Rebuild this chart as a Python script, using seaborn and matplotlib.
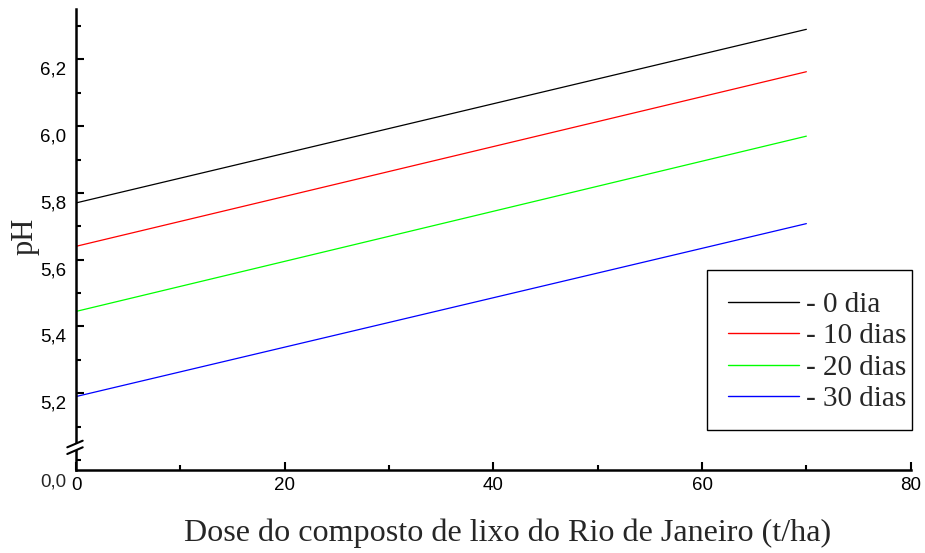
import matplotlib
matplotlib.use("Agg")
import matplotlib.pyplot as plt
import matplotlib.transforms as mtransforms
from matplotlib.lines import Line2D
from matplotlib.patches import Rectangle, Polygon
import seaborn as sns
import pandas as pd

# ---- data ----
dose = [0, 70]
ph_0 = [5.770, 6.290]
ph_10 = [5.640, 6.163]
ph_20 = [5.445, 5.970]
ph_30 = [5.190, 5.708]
series_labels = ["- 0 dia", "- 10 dias", "- 20 dias", "- 30 dias"]
series_colors = ["#000000", "#FF0000", "#00FF00", "#0000FF"]
y_major = [5.2, 5.4, 5.6, 5.8, 6.0, 6.2]
y_major_labels = ["5,2", "5,4", "5,6", "5,8", "6,0", "6,2"]
y_minor = [5.0, 5.1, 5.3, 5.5, 5.7, 5.9, 6.1, 6.3]
x_major = [0, 20, 40, 60, 80]
x_minor = [10, 30, 50, 70]
y_bottom_label = "0,0"

rows = []
for lab, vals in zip(series_labels, [ph_0, ph_10, ph_20, ph_30]):
    for d, v in zip(dose, vals):
        rows.append({"dose": d, "pH": v, "serie": lab})
df = pd.DataFrame(rows)

sns.set_style("ticks")
plt.rcParams["font.family"] = ["Liberation Sans", "DejaVu Sans"]

W, H = 925, 553
fig = plt.figure(figsize=(W / 100, H / 100), dpi=100)
ax_l, ax_r, ax_b, ax_t = 76, 910.7, 470, 9.3
ax = fig.add_axes([ax_l / W, 1 - ax_b / H, (ax_r - ax_l) / W, (ax_b - ax_t) / H])

sns.lineplot(data=df, x="dose", y="pH", hue="serie", hue_order=series_labels,
             palette=dict(zip(series_labels, series_colors)), linewidth=0.9,
             ax=ax, legend=True)

TICK_FS = 13.5
ax.set_xlim(0, 80)
ax.set_ylim(4.97, 6.35)
ax.set_xticks(x_major)
ax.set_xticks(x_minor, minor=True)
ax.set_xticklabels([str(v) for v in x_major], fontsize=TICK_FS)
ax.set_yticks(y_major)
ax.set_yticks(y_minor, minor=True)
ax.set_yticklabels(y_major_labels, fontsize=TICK_FS)

for s in ["top", "right"]:
    ax.spines[s].set_visible(False)
for s in ["left", "bottom"]:
    ax.spines[s].set_linewidth(1.8)
    ax.spines[s].set_color("black")

ax.tick_params(axis="both", which="major", direction="in", length=6, width=1.5, colors="black")
ax.tick_params(axis="both", which="minor", direction="in", length=3.5, width=1.5, colors="black")
ax.tick_params(axis="y", which="major", pad=7)
ax.tick_params(axis="x", which="major", pad=5)

# shift y tick labels slightly downward as in reference
off = mtransforms.ScaledTranslation(0, -9 / 100, fig.dpi_scale_trans)
for lab in ax.get_yticklabels():
    lab.set_transform(lab.get_transform() + off)

# bottom "0,0" label for broken axis
ax.annotate(y_bottom_label, xy=(0, 4.97), xycoords=("axes fraction", "data"),
            xytext=(-10, -12), textcoords="offset pixels", ha="right", va="center",
            fontsize=TICK_FS)

serif = ["Liberation Serif", "DejaVu Serif"]
ax.set_xlabel("Dose do composto de lixo do Rio de Janeiro (t/ha)", fontsize=23.1, family=serif)
ax.set_ylabel("pH", fontsize=22, family=serif)
ax.xaxis.set_label_coords((508 - ax_l) / (ax_r - ax_l), (ax_b - 533) / (ax_b - ax_t))
ax.xaxis.label.set_va("center")
ax.yaxis.set_label_coords((25.5 - ax_l) / (ax_r - ax_l), (ax_b - 236.5) / (ax_b - ax_t))
ax.yaxis.label.set_va("center")

# legend
handles, labels = ax.get_legend_handles_labels()
leg = ax.legend(handles, labels, loc="upper left",
                bbox_to_anchor=(727.7 / W, 1 - 291.5 / H), bbox_transform=fig.transFigure,
                frameon=False, prop={"family": serif, "size": 21},
                handlelength=2.43, handletextpad=0.26, labelspacing=0.175,
                borderpad=0, borderaxespad=0)
for h in leg.get_lines():
    h.set_linewidth(1.0)
fig.patches.append(Rectangle((707.3 / W, 1 - 430 / H), 204.4 / W, 160 / H,
                             transform=fig.transFigure, fill=False,
                             edgecolor="black", linewidth=1.0, zorder=5))

# axis break marks
def fp(x, y):
    return (x / W, 1 - y / H)

gap = Polygon([fp(70, 446.0), fp(82, 441.0), fp(82, 447.7), fp(70, 452.7)],
              closed=True, transform=fig.transFigure, facecolor="white",
              edgecolor="none", zorder=6)
fig.patches.append(gap)
for (x0, y0, x1, y1) in [(67.3, 447.3, 82.7, 440.7), (67.3, 454.0, 82.7, 447.3)]:
    p0, p1 = fp(x0, y0), fp(x1, y1)
    fig.lines.append(Line2D([p0[0], p1[0]], [p0[1], p1[1]], transform=fig.transFigure,
                            color="black", linewidth=1.5, zorder=7))

fig.savefig("out.png", dpi=100)
